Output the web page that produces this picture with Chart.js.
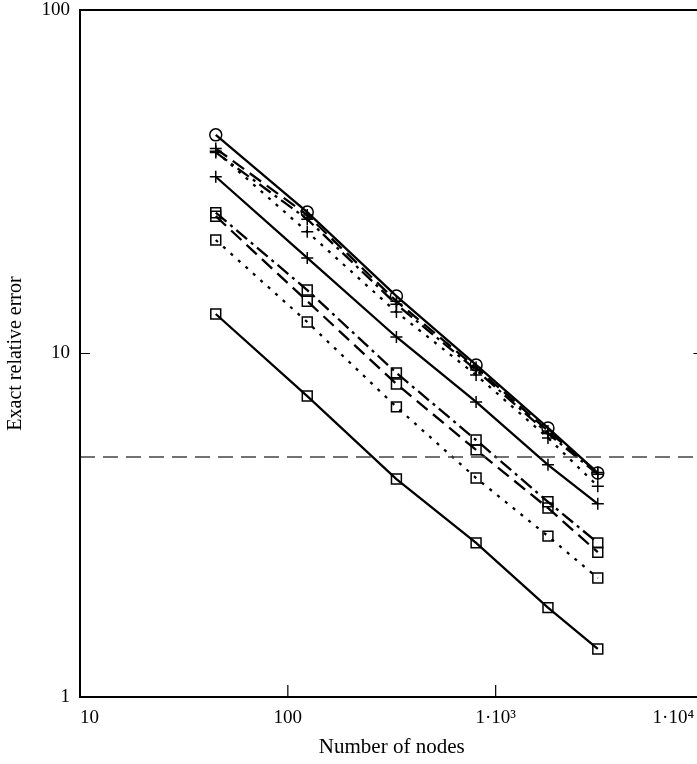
<!DOCTYPE html>
<html>
<head>
<meta charset="utf-8">
<script src="https://cdn.jsdelivr.net/npm/chart.js@4.4.1/dist/chart.umd.min.js"></script>
<style>
  html, body { margin: 0; padding: 0; overflow: hidden; background: #fff; }
  canvas { display: block; }
</style>
</head>
<body>
<canvas id="grafica" width="712" height="764"></canvas>
<script>
// Datos (escala log-log)
const nodos = [45, 124, 333, 805, 1785, 3100];

// Grupo superior (círculos / cruces)
const solidoCirculo = [43.3, 25.8, 14.7, 9.26, 6.07, 4.49];
const guionCruz     = [39.5, 25.3, 14.2, 9.1, 5.95, 4.5];
const puntoRayaCruz = [38.5, 24.6, 13.9, 8.95, 5.85, 4.45];
const punteadoCruz  = [38.8, 22.6, 13.2, 8.66, 5.68, 4.11];
const solidoCruz    = [32.7, 18.97, 11.17, 7.23, 4.74, 3.65];

// Grupo inferior (cuadrados)
const puntoRayaCuadro = [25.7, 15.3, 8.78, 5.6, 3.7, 2.81];
const guionCuadro     = [25.1, 14.2, 8.15, 5.24, 3.55, 2.64];
const punteadoCuadro  = [21.4, 12.35, 6.99, 4.34, 2.94, 2.22];
const solidoCuadro    = [13.03, 7.52, 4.31, 2.81, 1.82, 1.38];

// Línea de referencia horizontal
const umbral = 5;

// Ejes
const xTicks = [10, 100, 1000, 10000];
const xTickLabels = ['10', '100', '1·10³', '1·10⁴  '];
const yTicks = [1, 10, 100];
const yTickLabels = ['1', '10', '100'];

const FUENTE = "'Liberation Serif', 'DejaVu Serif', serif";

function puntos(valores) {
    return nodos.map((n, i) => ({ x: n, y: valores[i] }));
}

function serie(valores, dash, estilo, radio) {
    return {
        data: puntos(valores),
        borderColor: '#000',
        borderWidth: 2.3,
        borderDash: dash,
        borderCapStyle: 'butt',
        pointStyle: estilo,
        pointRadius: radio,
        pointBorderWidth: 1.5,
        pointBorderColor: '#000',
        pointBackgroundColor: 'rgba(0,0,0,0)',
        tension: 0
    };
}

const RAYA = [14, 7];
const PUNTO_RAYA = [14, 5, 3, 5];
const PUNTOS = [3, 7];

// Marco y marcas de los ejes hacia dentro
const marco = {
    id: 'marco',
    afterDraw(chart) {
        const { ctx, chartArea: a, scales: { x, y } } = chart;
        ctx.save();
        ctx.strokeStyle = '#000';
        ctx.lineWidth = 2;
        ctx.strokeRect(a.left, a.top, a.right - a.left, a.bottom - a.top);
        ctx.lineWidth = 1.2;
        ctx.beginPath();
        xTicks.forEach(v => {
            const px = x.getPixelForValue(v);
            ctx.moveTo(px, a.bottom);
            ctx.lineTo(px, a.bottom - 12);
        });
        yTicks.forEach(v => {
            const py = y.getPixelForValue(v);
            ctx.moveTo(a.left, py);
            ctx.lineTo(a.left + 10, py);
            ctx.moveTo(a.right, py);
            ctx.lineTo(a.right - 10, py);
        });
        ctx.stroke();
        ctx.restore();
    }
};

new Chart(document.getElementById('grafica'), {
    type: 'line',
    data: {
        datasets: [
            {
                data: [{ x: xTicks[0], y: umbral }, { x: xTicks[xTicks.length - 1], y: umbral }],
                borderColor: '#444',
                borderWidth: 1.5,
                borderDash: [15, 8],
                pointRadius: 0
            },
            serie(solidoCirculo, [], 'circle', 6),
            serie(guionCruz, RAYA, 'cross', 6),
            serie(puntoRayaCruz, PUNTO_RAYA, 'cross', 6),
            serie(punteadoCruz, PUNTOS, 'cross', 6),
            serie(solidoCruz, [], 'cross', 6),
            serie(puntoRayaCuadro, PUNTO_RAYA, 'rect', 7),
            serie(guionCuadro, RAYA, 'rect', 7),
            serie(punteadoCuadro, PUNTOS, 'rect', 7),
            serie(solidoCuadro, [], 'rect', 7)
        ]
    },
    options: {
        responsive: false,
        animation: false,
        devicePixelRatio: 1,
        layout: { padding: { top: 10, right: 5, left: 0, bottom: 0 } },
        plugins: {
            legend: { display: false },
            tooltip: { enabled: false }
        },
        scales: {
            x: {
                type: 'logarithmic',
                min: 10,
                max: 10000,
                grid: { display: false, drawTicks: false, tickLength: 0 },
                border: { display: false },
                afterBuildTicks: s => { s.ticks = xTicks.map(v => ({ value: v })); },
                afterFit: s => {
                    s.height = 67;
                    s.paddingLeft = 0;
                    s.paddingRight = 0;
                },
                ticks: {
                    align: 'inner',
                    autoSkip: false,
                    maxRotation: 0,
                    padding: 10,
                    color: '#000',
                    font: { family: FUENTE, size: 19 },
                    callback: (v, i) => xTickLabels[i]
                },
                title: {
                    display: true,
                    text: 'Number of nodes',
                    color: '#000',
                    font: { family: FUENTE, size: 21 }
                }
            },
            y: {
                type: 'logarithmic',
                min: 1,
                max: 100,
                grid: { display: false, drawTicks: false, tickLength: 0 },
                border: { display: false },
                afterBuildTicks: s => { s.ticks = yTicks.map(v => ({ value: v })); },
                afterFit: s => {
                    s.width = 80;
                    s.paddingTop = 0;
                    s.paddingBottom = 0;
                },
                ticks: {
                    padding: 10,
                    color: '#000',
                    font: { family: FUENTE, size: 19 },
                    callback: (v, i) => yTickLabels[i]
                },
                title: {
                    display: true,
                    text: 'Exact relative error',
                    color: '#000',
                    font: { family: FUENTE, size: 20 }
                }
            }
        }
    },
    plugins: [marco]
});
</script>
</body>
</html>
